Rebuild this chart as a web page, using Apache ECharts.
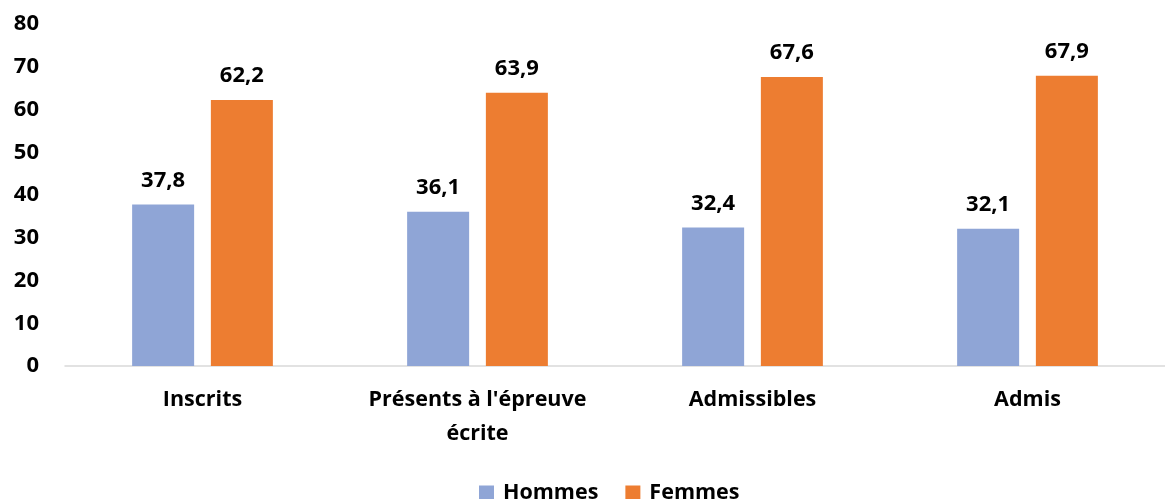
<!DOCTYPE html>
<html>
<head>
<meta charset="utf-8">
<script src="https://cdn.jsdelivr.net/npm/echarts@6/dist/echarts.min.js"></script>
<style>
  html, body { margin: 0; padding: 0; background: #fff; }
  #chart { width: 1165px; height: 499px; }
</style>
</head>
<body>
<div id="chart"></div>
<script>
var categories = ['Inscrits', "Présents à l'épreuve\nécrite", 'Admissibles', 'Admis'];
var hommes = [37.8, 36.1, 32.4, 32.1];
var femmes = [62.2, 63.9, 67.6, 67.9];
var yTicks = [0, 10, 20, 30, 40, 50, 60, 70, 80];

var font = '"Open Sans", "DejaVu Sans", sans-serif';

function virgule(p) {
    return String(p.value.toFixed(1)).replace('.', ',');
}

var myChart = echarts.init(document.getElementById('chart'));

var option = {
    animation: false,
    grid: {
        left: 65,
        top: 24,
        width: 1112,
        bottom: 133
    },
    legend: {
        data: ['Hommes', 'Femmes'],
        left: 474,
        top: 477,
        itemWidth: 15,
        itemHeight: 15,
        itemGap: 27,
        icon: 'rect',
        textStyle: { fontFamily: font, fontWeight: 'bold', fontSize: 21.5, color: '#000', padding: [0, 0, 0, 4] }
    },
    xAxis: {
        type: 'category',
        data: categories,
        axisLine: { lineStyle: { color: '#D9D9D9', width: 1.5 } },
        axisTick: { show: false },
        axisLabel: {
            interval: 0,
            hideOverlap: false,
            margin: 17,
            fontFamily: font,
            fontWeight: 'bold',
            fontSize: 21.5,
            lineHeight: 34,
            color: '#000'
        }
    },
    yAxis: {
        type: 'value',
        min: yTicks[0],
        max: yTicks[yTicks.length - 1],
        interval: 10,
        axisLine: { show: false },
        axisTick: { show: false },
        splitLine: { show: false },
        axisLabel: {
            margin: 26,
            fontFamily: font,
            fontWeight: 'bold',
            fontSize: 22,
            color: '#000'
        }
    },
    series: [
        {
            name: 'Hommes',
            type: 'bar',
            data: hommes,
            barWidth: 62,
            barGap: '27%',
            itemStyle: { color: '#8FA5D6' },
            label: {
                show: true,
                position: 'top',
                distance: 13,
                formatter: virgule,
                fontFamily: font,
                fontWeight: 'bold',
                fontSize: 22,
                color: '#000'
            }
        },
        {
            name: 'Femmes',
            type: 'bar',
            data: femmes,
            barWidth: 62,
            itemStyle: { color: '#ED7D31' },
            label: {
                show: true,
                position: 'top',
                distance: 13,
                formatter: virgule,
                fontFamily: font,
                fontWeight: 'bold',
                fontSize: 22,
                color: '#000'
            }
        }
    ]
};

myChart.setOption(option);
</script>
</body>
</html>
